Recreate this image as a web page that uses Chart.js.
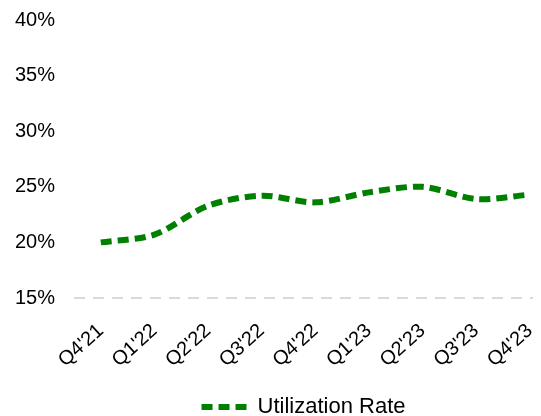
<!DOCTYPE html>
<html>
<head>
<meta charset="utf-8">
<script src="https://cdn.jsdelivr.net/npm/chart.js@4/dist/chart.umd.min.js"></script>
<style>
  html, body { margin: 0; padding: 0; background: #fff; }
  #wrap { width: 541px; height: 416px; }
</style>
</head>
<body>
<div id="wrap"><canvas id="myChart"></canvas></div>
<script>
const quarters = ["Q4'21", "Q1'22", "Q2'22", "Q3'22", "Q4'22", "Q1'23", "Q2'23", "Q3'23", "Q4'23"];
const utilization = [20.0, 20.7, 23.3, 24.2, 23.6, 24.5, 25.0, 23.9, 24.3];
const yTicks = [15, 20, 25, 30, 35, 40];

const green = '#008000';
const font = "'Liberation Sans', Arial, sans-serif";
const dash = [11, 6];

const ctx = document.getElementById('myChart').getContext('2d');
new Chart(ctx, {
    type: 'line',
    data: {
        datasets: [{
            label: 'Utilization Rate',
            data: utilization.map((v, i) => ({ x: i, y: v })),
            borderColor: green,
            backgroundColor: green,
            borderWidth: 6,
            borderDash: dash,
            borderCapStyle: 'butt',
            tension: 0.3,
            pointRadius: 0,
            fill: false
        }]
    },
    options: {
        responsive: true,
        maintainAspectRatio: false,
        animation: false,
        layout: { padding: { top: 20, right: 8, left: 0, bottom: -12 } },
        plugins: {
            tooltip: { enabled: false },
            legend: {
                position: 'bottom',
                fullSize: false,
                labels: {
                    usePointStyle: true,
                    pointStyle: 'line',
                    pointStyleWidth: 45,
                    padding: 0,
                    color: '#000',
                    font: { family: font, size: 22, lineHeight: 1 },
                    // legend sample should be dashed like the line
                    generateLabels: chart => {
                        const items = Chart.defaults.plugins.legend.labels.generateLabels(chart);
                        items.forEach(it => {
                            it.lineDash = dash;
                            it.lineWidth = 6;
                            it.strokeStyle = green;
                            it.lineCap = 'butt';
                        });
                        return items;
                    }
                }
            }
        },
        scales: {
            x: {
                type: 'linear',
                min: -0.5,
                max: 8.06,
                afterBuildTicks: scale => { scale.ticks = quarters.map((q, i) => ({ value: i })); },
                afterFit: scale => {
                    scale.height = 98;
                    scale.paddingLeft = 0;
                    scale.paddingRight = 0;
                },
                grid: { display: false, drawTicks: false },
                border: { display: false },
                ticks: {
                    autoSkip: false,
                    minRotation: 42,
                    maxRotation: 42,
                    padding: 21,
                    color: '#000',
                    font: { family: font, size: 20 },
                    callback: v => quarters[v]
                }
            },
            y: {
                min: 15,
                max: 40,
                afterBuildTicks: scale => { scale.ticks = yTicks.map(v => ({ value: v })); },
                afterFit: scale => {
                    scale.width = 74;
                    scale.paddingTop = 0;
                    scale.paddingBottom = 0;
                },
                grid: {
                    drawTicks: false,
                    lineWidth: 2,
                    color: c => c.index === 0 ? '#d9d9d9' : 'rgba(0,0,0,0)'
                },
                border: { display: false, dash: [11, 8] },
                ticks: {
                    padding: 19,
                    color: '#000',
                    font: { family: font, size: 20 },
                    callback: v => v + '%'
                }
            }
        }
    }
});
</script>
</body>
</html>
